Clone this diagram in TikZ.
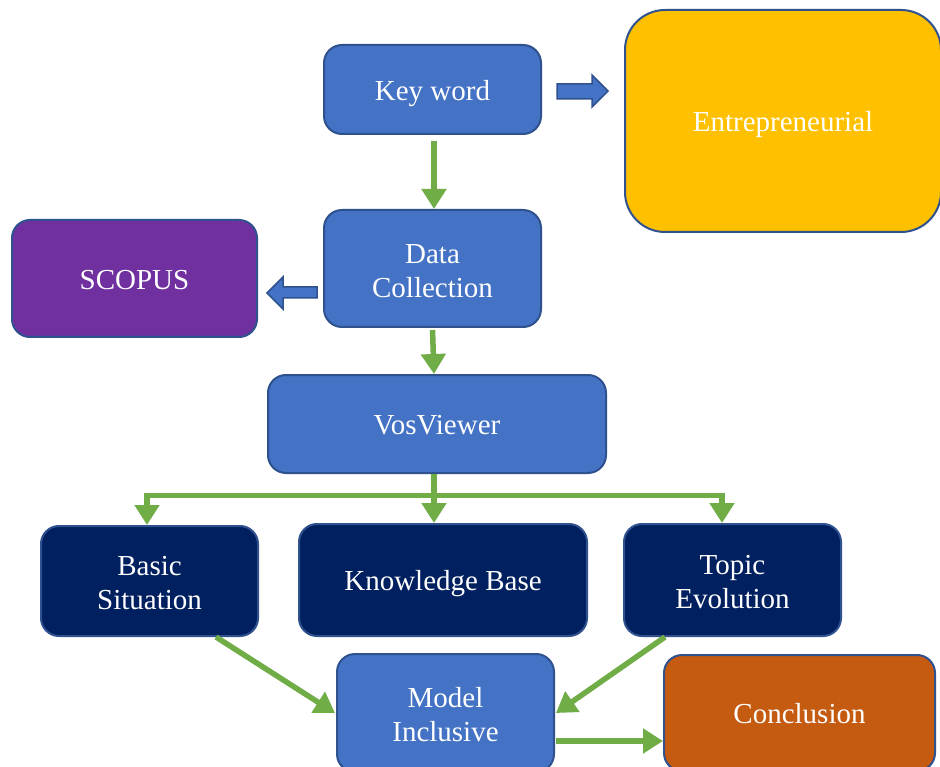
\documentclass[tikz,border=0pt]{standalone}
\usepackage{fontspec}
\setmainfont{Liberation Serif}
\usetikzlibrary{arrows.meta,calc}
\definecolor{boxblue}{HTML}{4472C4}
\definecolor{edgeblue}{HTML}{2F528F}
\definecolor{navy}{HTML}{002060}
\definecolor{gold}{HTML}{FFC000}
\definecolor{violet}{HTML}{7030A0}
\definecolor{rust}{HTML}{C55A11}
\definecolor{leaf}{HTML}{70AD47}
% vertical struts that place one-line and two-line labels
\newcommand\oneline{\rule[-0.25em]{0pt}{1.25em}}
\newcommand\twoline{\rule{0pt}{24pt}}
\tikzset{
  box/.style={draw=edgeblue, line width=2pt, rounded corners=18pt, fill=boxblue,
    text=white, align=center, inner sep=0pt,
    font=\fontsize{29}{34}\selectfont},
  flow/.style={draw=leaf, line width=5.5pt,
    -{Triangle[width=24pt,length=20pt]}},
  link/.style={draw=leaf, line width=5pt},
  blockarrow/.style={draw=edgeblue, line width=1.5pt, fill=boxblue, line join=miter},
}
\begin{document}
\begin{tikzpicture}[x=1pt,y=-1pt]
\clip (0,0) rectangle (940,767);
\fill[white] (0,0) rectangle (940,767);

% boxes
\node[box, minimum width=217pt, minimum height=89pt] (key) at (432.5,89.5) {\oneline Key word};
\node[box, minimum width=217pt, minimum height=117pt] (data) at (432.5,268.5) {\twoline Data\\Collection};
\node[box, fill=gold, rounded corners=40pt, minimum width=316pt, minimum height=222pt] (entre) at (783,121) {\oneline Entrepreneurial};
\node[box, fill=violet, minimum width=245pt, minimum height=117pt] (scopus) at (134.5,278.5) {\oneline SCOPUS};
\node[box, minimum width=338pt, minimum height=98pt] (vos) at (437,424) {\oneline VosViewer};
\node[box, fill=navy, minimum width=217pt, minimum height=110pt] (basic) at (149.5,581) {\twoline Basic\\Situation};
\node[box, fill=navy, minimum width=288pt, minimum height=112pt] (know) at (443,580) {\oneline Knowledge Base};
\node[box, fill=navy, minimum width=217pt, minimum height=112pt] (topic) at (732.5,580) {\twoline Topic\\Evolution};
\node[box, minimum width=217pt, minimum height=118pt] (model) at (445.5,713) {\twoline Model\\Inclusive};
\node[box, fill=rust, minimum width=271pt, minimum height=116pt] (concl) at (799.5,713) {\oneline Conclusion};

% block arrows towards the side boxes
\draw[blockarrow] (557,84) -- (592,84) -- (592,75) -- (608,91) -- (592,107) -- (592,99) -- (557,99) -- cycle;
\draw[blockarrow] (317,287) -- (283,287) -- (283,277) -- (267,293) -- (283,309) -- (283,298) -- (317,298) -- cycle;

% main flow
\coordinate (k1) at ($(key.south)+(1.5,6)$);
\draw[flow] (k1) -- (k1 |- data.north);
\draw[flow] ($(data.south)+(0,2)$) -- ($(vos.north)+(-3,0)$);

% branching below VosViewer
\coordinate (hub) at (434,495);
\coordinate (bl) at (147,495);
\coordinate (br) at (722,495);
\draw[link] ($(bl)+(-2.5,0)$) -- ($(br)+(2.5,0)$);
\draw[flow] (hub |- vos.south) -- (hub |- know.north);
\draw[flow] ($(bl)+(0,-2.5)$) -- (bl |- basic.north);
\draw[flow] ($(br)+(0,-2.5)$) -- (br |- topic.north);

% towards the model and conclusion
\draw[flow] ($(basic.south)+(66.5,0)$) -- ($(model.west)+(-1,0)$);
\draw[flow] ($(topic.south)+(-67.5,0)$) -- ($(model.east)+(1,0)$);
\coordinate (m1) at ($(model.east)+(1,28)$);
\draw[flow] (m1) -- (m1 -| concl.west);
\end{tikzpicture}
\end{document}
